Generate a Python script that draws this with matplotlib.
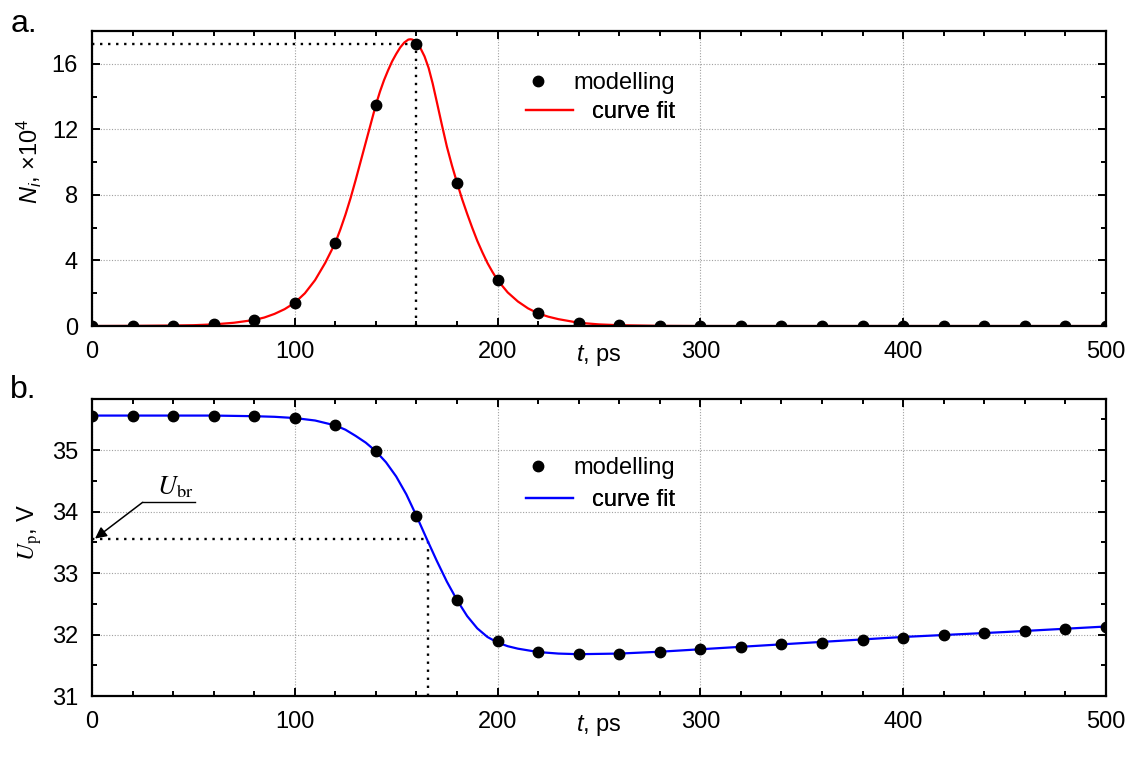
import numpy as np
import matplotlib
matplotlib.use("Agg")
import matplotlib.pyplot as plt
from matplotlib.ticker import MultipleLocator

plt.rcParams["font.family"] = ["Liberation Sans", "DejaVu Sans"]
plt.rcParams["mathtext.fontset"] = "custom"
plt.rcParams["mathtext.rm"] = "Liberation Sans"
plt.rcParams["mathtext.it"] = "Liberation Sans:italic"
plt.rcParams["mathtext.bf"] = "Liberation Sans:bold"

# ---- data ----
t_model = [0, 20, 40, 60, 80, 100, 120, 140, 160, 180, 200, 220, 240, 260,
           280, 300, 320, 340, 360, 380, 400, 420, 440, 460, 480, 500]

# panel a: N_i (x10^4)
n_model = [0.0, 0.0, 0.02, 0.1, 0.37, 1.42, 5.08, 13.5, 17.2, 8.7, 2.8, 0.77,
           0.2, 0.05, 0.01, 0.0, 0.0, 0.0, 0.0, 0.0, 0.0, 0.0, 0.0, 0.0, 0.0, 0.0]
t_fit_a = [0, 20, 40, 50, 60, 70, 80, 85, 90, 95, 100, 105, 110, 115, 120,
           122.5, 125, 127.5, 130, 132.5, 135, 137.5, 140, 142, 144, 146, 148,
           150, 152, 154, 156, 157, 158, 160, 162, 164, 166, 168, 170, 172.5,
           175, 177.5, 180, 182.5, 185, 187.5, 190, 192.5, 195, 197.5, 200,
           205, 210, 215, 220, 225, 230, 240, 250, 260, 280, 300, 500]
n_fit = [0.0, 0.01, 0.03, 0.05, 0.1, 0.2, 0.37, 0.52, 0.74, 1.03, 1.42, 2.0,
         2.8, 3.85, 5.08, 5.9, 6.8, 7.8, 8.9, 10.05, 11.2, 12.35, 13.5, 14.3,
         15.0, 15.6, 16.15, 16.6, 17.0, 17.3, 17.48, 17.5, 17.48, 17.3, 16.95,
         16.45, 15.75, 14.8, 13.7, 12.3, 10.95, 9.8, 8.75, 7.75, 6.85, 6.0,
         5.2, 4.5, 3.85, 3.3, 2.8, 2.05, 1.5, 1.08, 0.77, 0.57, 0.42, 0.2,
         0.1, 0.05, 0.01, 0.0, 0.0]
peak_t = 160
peak_n = 17.2

# panel b: U_p, V
u_model = [35.56, 35.56, 35.56, 35.56, 35.55, 35.52, 35.40, 34.98, 33.92,
           32.56, 31.89, 31.71, 31.68, 31.69, 31.72, 31.76, 31.80, 31.84,
           31.87, 31.91, 31.95, 31.99, 32.03, 32.06, 32.09, 32.13]
t_fit_b = [0, 60, 80, 90, 100, 110, 120, 125, 130, 135, 140, 145, 150, 155,
           160, 165, 170, 175, 180, 185, 190, 195, 200, 205, 210, 220, 230,
           240, 260, 280, 300, 350, 400, 450, 500]
u_fit = [35.56, 35.56, 35.55, 35.54, 35.52, 35.48, 35.40, 35.33, 35.23, 35.12,
         34.98, 34.80, 34.57, 34.28, 33.93, 33.56, 33.20, 32.86, 32.56, 32.30,
         32.10, 31.96, 31.87, 31.81, 31.77, 31.715, 31.69, 31.68, 31.69, 31.72,
         31.76, 31.86, 31.96, 32.04, 32.13]
ubr_t = 165.7
ubr_u = 33.56


def style_axes(ax, ymajor, yminor):
    ax.set_xlim(0, 500)
    ax.xaxis.set_major_locator(MultipleLocator(100))
    ax.xaxis.set_minor_locator(MultipleLocator(20))
    ax.yaxis.set_major_locator(MultipleLocator(ymajor))
    ax.yaxis.set_minor_locator(MultipleLocator(yminor))
    ax.tick_params(which="both", direction="in", top=True, right=True,
                   width=1.4, labelsize=17)
    ax.tick_params(which="major", length=6)
    ax.tick_params(which="minor", length=3.8)
    ax.tick_params(axis="x", which="major", pad=11)
    ax.tick_params(axis="y", which="major", pad=10)
    for sp in ax.spines.values():
        sp.set_linewidth(1.6)
    ax.grid(True, which="major", color="#a0a0a0", linestyle=(0, (1, 1.5)),
            linewidth=0.8)
    ax.set_axisbelow(True)
    ax.set_xlabel("$t$, ps", fontsize=17, va="top")
    ax.xaxis.set_label_coords(0.5, -0.058)


def add_legend(ax, handles, labels, y):
    pads = [0.5, 0.8]
    for i, (h, lab) in enumerate(zip(handles, labels)):
        leg = ax.legend([h], [lab], loc="center right",
                        bbox_to_anchor=(0.575, y[i]), frameon=False,
                        fontsize=17, borderpad=0, borderaxespad=0,
                        handlelength=2.0, handletextpad=pads[i])
        ax.add_artist(leg)


fig = plt.figure(figsize=(11.3, 7.63), dpi=100)
ax1 = fig.add_axes([0.0814, 0.5727, 0.8973, 0.3866])
ax2 = fig.add_axes([0.0814, 0.0878, 0.8973, 0.3893])

dot = (0, (1, 2.4))

# ---- panel a ----
ax1.plot([0, peak_t], [peak_n, peak_n], color="black", linestyle=dot, lw=1.7)
ax1.plot([peak_t, peak_t], [0, peak_n], color="black", linestyle=dot, lw=1.7)
l1, = ax1.plot(t_fit_a, n_fit, color="#ff0000", lw=1.6)
p1, = ax1.plot(t_model, n_model, "o", color="black", markersize=7.5)
ax1.set_ylim(0, 18)
style_axes(ax1, 4, 2)
ax1.set_ylabel("$N_i$, ×10$^4$", fontsize=17)
ax1.yaxis.set_label_coords(-0.047, 0.56)
add_legend(ax1, [p1, l1], ["modelling", "curve fit"], [0.824, 0.725])
fig.text(0.009, 0.958, "a.", fontsize=23)

# ---- panel b ----
ax2.plot([0, ubr_t], [ubr_u, ubr_u], color="black", linestyle=dot, lw=1.7)
ax2.plot([ubr_t, ubr_t], [31, ubr_u], color="black", linestyle=dot, lw=1.7)
l2, = ax2.plot(t_fit_b, u_fit, color="#0000ff", lw=1.6)
p2, = ax2.plot(t_model, u_model, "o", color="black", markersize=7.5)
ax2.set_ylim(31, 35.83)
style_axes(ax2, 1, 0.5)
ax2.set_ylabel(r"$U_\mathrm{p}$, V", fontsize=17, math_fontfamily="stix")
ax2.yaxis.set_label_coords(-0.047, 0.55)
add_legend(ax2, [p2, l2], ["modelling", "curve fit"], [0.768, 0.66])
fig.text(0.009, 0.478, "b.", fontsize=23)

# U_br annotation
ax2.plot([25, 51], [34.15, 34.15], color="black", lw=1.0)
ax2.annotate("", xy=(1.5, ubr_u), xytext=(25, 34.15),
             arrowprops=dict(arrowstyle="-|>", color="black", lw=1.1,
                             mutation_scale=17, shrinkA=0, shrinkB=0))
ax2.text(41, 34.19, r"$U_\mathrm{br}$", fontsize=19, ha="center",
         va="bottom", math_fontfamily="stix")

fig.savefig("out.png", dpi=100)
